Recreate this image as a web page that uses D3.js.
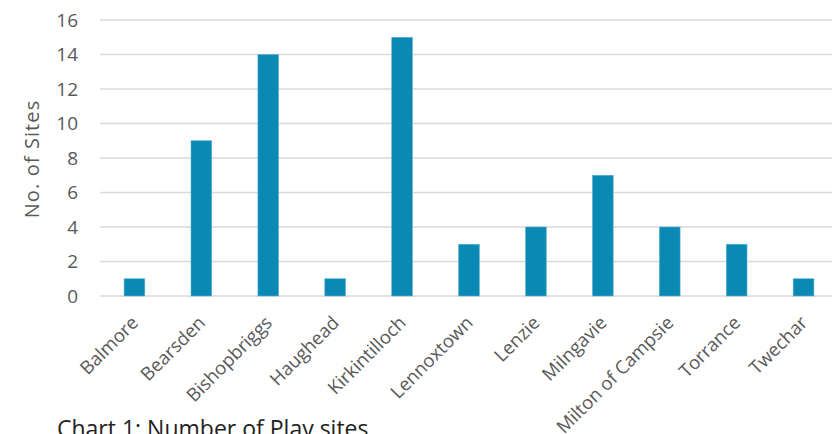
<!DOCTYPE html>
<html>
<head>
<meta charset="utf-8">
<script src="https://cdn.jsdelivr.net/npm/d3@7"></script>
<style>
  html, body { margin: 0; padding: 0; background: #fff; overflow: hidden; }
  text { font-family: "Open Sans", "Liberation Sans", sans-serif; }
</style>
</head>
<body>
<svg id="chart" width="832" height="434"></svg>
<script>
// Play sites by settlement
const towns = ["Balmore", "Bearsden", "Bishopbriggs", "Haughead", "Kirkintilloch",
  "Lennoxtown", "Lenzie", "Milngavie", "Milton of Campsie", "Torrance", "Twechar"];
const sites = [1, 9, 14, 1, 15, 3, 4, 7, 4, 3, 1];
const yTicks = [0, 2, 4, 6, 8, 10, 12, 14, 16];

const svg = d3.select("#chart");
const plotLeft = 101, plotRight = 837, plotTop = 20, plotBottom = 296;

const x = d3.scaleBand().domain(towns).range([plotLeft, plotRight]).paddingInner(0.69).paddingOuter(0.345);
const y = d3.scaleLinear().domain([0, 16]).range([plotBottom, plotTop]);

// horizontal gridlines
svg.append("g").selectAll("line").data(yTicks).join("line")
  .attr("x1", plotLeft - 1).attr("x2", 832)
  .attr("y1", d => y(d)).attr("y2", d => y(d))
  .attr("stroke", "#d9d9d9").attr("stroke-width", 1.5);

// y axis tick labels
const yAxis = svg.append("g").attr("transform", `translate(${plotLeft - 10},0)`)
  .call(d3.axisLeft(y).tickValues(yTicks).tickSize(0).tickPadding(13));
yAxis.select(".domain").remove();
yAxis.selectAll("text").attr("fill", "#595959").style("font-size", "19px")
  .style("font-family", "'Open Sans', sans-serif");

// bars
svg.append("g").selectAll("rect").data(sites).join("rect")
  .attr("x", (d, i) => x(towns[i]))
  .attr("y", d => y(d))
  .attr("width", x.bandwidth())
  .attr("height", d => y(0) - y(d))
  .attr("fill", "#0a89b4")
  .attr("stroke", "#5fb3d1").attr("stroke-width", 0.6);

// x axis labels, rotated
const xAxis = svg.append("g").attr("transform", `translate(0,${plotBottom})`)
  .call(d3.axisBottom(x).tickSize(0).tickPadding(0));
xAxis.select(".domain").remove();
xAxis.selectAll("text")
  .attr("fill", "#595959").style("font-size", "18.5px")
  .style("font-family", "'Open Sans', sans-serif")
  .attr("text-anchor", "end")
  .attr("dy", null)
  .attr("transform", "translate(5,28) rotate(-45)");

// y axis title
svg.append("text")
  .attr("transform", `translate(39,${(plotTop + plotBottom) / 2 + 1}) rotate(-90)`)
  .attr("text-anchor", "middle")
  .attr("fill", "#595959").style("font-size", "20px")
  .style("letter-spacing", "1.1px")
  .text("No. of Sites");

// caption
svg.append("text")
  .attr("x", 57).attr("y", 437)
  .attr("fill", "#222").style("font-size", "23px")
  .text("Chart 1: Number of Play sites");
</script>
</body>
</html>
